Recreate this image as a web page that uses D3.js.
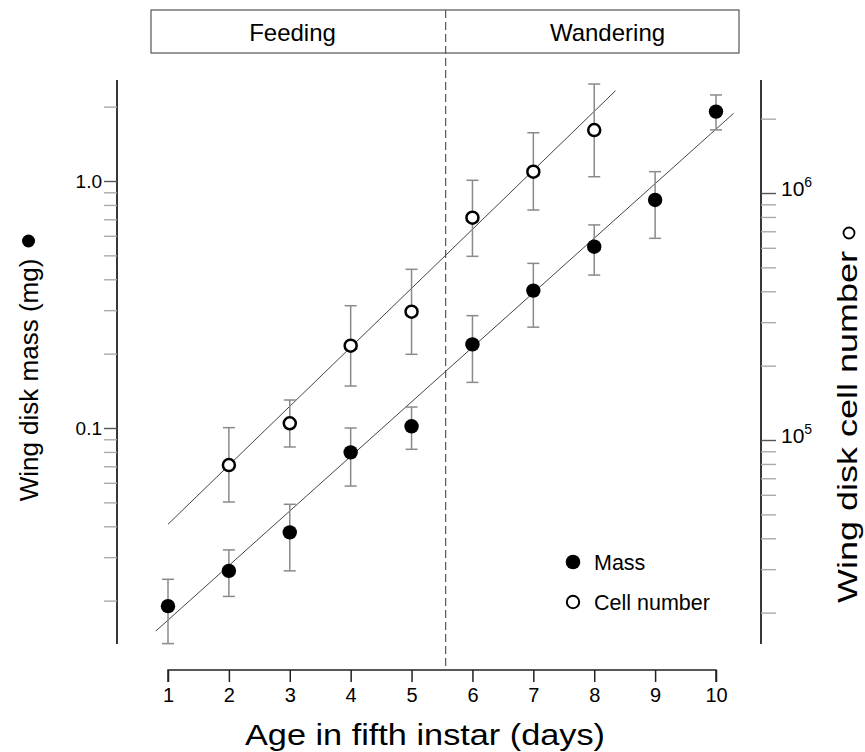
<!DOCTYPE html>
<html>
<head>
<meta charset="utf-8">
<script src="https://cdn.jsdelivr.net/npm/d3@7"></script>
<style>
  html, body { margin: 0; padding: 0; background: #fff; }
  svg { display: block; }
  text { font-family: "Liberation Sans", Arial, Helvetica, sans-serif; fill: #000; }
</style>
</head>
<body>
<svg id="chart" width="865" height="752"></svg>
<script>
// ---- Data ----
const days = [1, 2, 3, 4, 5, 6, 7, 8, 9, 10];
const massMean  = [0.0190, 0.0264, 0.0378, 0.0797, 0.1016, 0.218, 0.360, 0.542, 0.838, 1.91];
const massUpper = [0.0244, 0.0321, 0.0491, 0.100, 0.1216, 0.285, 0.464, 0.664, 1.091, 2.23];
const massLower = [0.0134, 0.0208, 0.0264, 0.0582, 0.0820, 0.153, 0.256, 0.416, 0.586, 1.61];

const cellDays  = [2, 3, 4, 5, 6, 7, 8];
const cellMean  = [79200, 116900, 240900, 330700, 794300, 1220000, 1799000];
const cellUpper = [112200, 145200, 349700, 491000, 1126000, 1754000, 2762000];
const cellLower = [56100, 93700, 165400, 222300, 554200, 853500, 1164000];

const massFitDays = [0.80, 10.29];
const massFitValues = [0.01507, 1.88];
const cellFitDays = [1.0, 8.35];
const cellFitValues = [45590, 2596000];

const xTicks = [1, 2, 3, 4, 5, 6, 7, 8, 9, 10];
const massTicks = [0.02,0.03,0.04,0.05,0.06,0.07,0.08,0.09,0.1,0.2,0.3,0.4,0.5,0.6,0.7,0.8,0.9,1,2];
const massMajor = [0.1, 1];
const massLabels = ["0.1", "1.0"];
const cellTicks = [2e4,3e4,4e4,5e4,6e4,7e4,8e4,9e4,1e5,2e5,3e5,4e5,5e5,6e5,7e5,8e5,9e5,1e6,2e6];
const cellMajor = [1e5, 1e6];
const cellExp = ["5", "6"];
const phaseLabels = ["Feeding", "Wandering"];
const phaseBoundary = 5.56;
const legendLabels = ["Mass", "Cell number"];

// ---- Layout ----
const svg = d3.select("#chart");
const x = d3.scaleLinear().domain([1, 10]).range([168, 716]);
const yMass = d3.scaleLog().domain([0.01335, 2.564]).range([644, 80]);
const yCell = d3.scaleLog().domain([14930, 2.868e6]).range([644, 80]);
const leftX = 117, rightX = 761, bottomY = 670;

// Phase box
const boxL = 151, boxR = 739, boxT = 10, boxB = 53;
svg.append("rect").attr("x", boxL).attr("y", boxT).attr("width", boxR - boxL).attr("height", boxB - boxT)
  .attr("fill", "none").attr("stroke", "#555").attr("stroke-width", 1.2);
svg.append("text").attr("x", 292.5).attr("y", 41).attr("text-anchor", "middle")
  .attr("font-size", 24).text(phaseLabels[0]);
svg.append("text").attr("x", 607.5).attr("y", 41).attr("text-anchor", "middle")
  .attr("font-size", 24).text(phaseLabels[1]);

// Dashed boundary
const bx = x(phaseBoundary);
svg.append("line").attr("x1", bx).attr("x2", bx).attr("y1", boxT).attr("y2", bottomY)
  .attr("stroke", "#555").attr("stroke-width", 1.2).attr("stroke-dasharray", "8,4");

// X axis
const xAxis = d3.axisBottom(x).tickValues(xTicks).tickSize(12).tickPadding(6).tickFormat(d3.format("d"));
const gx = svg.append("g").attr("transform", `translate(0,${bottomY})`).call(xAxis);
gx.select(".domain").attr("stroke", "#222").attr("stroke-width", 1.5).attr("d", `M${x(1)},12V0H${x(10)}V12`);
gx.selectAll(".tick line").attr("stroke", "#222").attr("stroke-width", 1.5);
gx.selectAll(".tick text").attr("font-size", 20).attr("font-family", "Liberation Sans, Arial, sans-serif").attr("fill", "#000");

// Left axis
const yAxisL = d3.axisLeft(yMass).tickValues(massTicks).tickSize(13).tickFormat(() => "");
const gl = svg.append("g").attr("transform", `translate(${leftX},0)`).call(yAxisL);
gl.select(".domain").attr("stroke", "#222").attr("stroke-width", 1.8).attr("d", "M0,80V644");
gl.selectAll(".tick line").attr("stroke", d => massMajor.includes(d) ? "#555" : "#aaa").attr("stroke-width", 1.4);
svg.selectAll(".massLabel").data(massMajor).enter().append("text").attr("class", "massLabel")
  .attr("x", 102).attr("y", d => yMass(d)).attr("dy", "0.36em").attr("text-anchor", "end")
  .attr("font-size", 19).text((d, i) => massLabels[i]);

// Right axis
const yAxisR = d3.axisRight(yCell).tickValues(cellTicks).tickSize(15).tickFormat(() => "");
const gr = svg.append("g").attr("transform", `translate(${rightX},0)`).call(yAxisR);
gr.select(".domain").attr("stroke", "#222").attr("stroke-width", 1.8).attr("d", "M0,80V644");
gr.selectAll(".tick line").attr("stroke", d => cellMajor.includes(d) ? "#555" : "#aaa").attr("stroke-width", 1.4);
const cl = svg.selectAll(".cellLabel").data(cellMajor).enter().append("text").attr("class", "cellLabel")
  .attr("x", 781).attr("y", d => yCell(d) + 3).attr("font-size", 21);
cl.append("tspan").text("10");
cl.append("tspan").attr("dy", -9).attr("font-size", 14).text((d, i) => cellExp[i]);

// Fit lines
const massLine = d3.line().x(d => x(d[0])).y(d => yMass(d[1]));
const cellLine = d3.line().x(d => x(d[0])).y(d => yCell(d[1]));
svg.append("path").attr("d", massLine(massFitDays.map((d, i) => [d, massFitValues[i]])))
  .attr("stroke", "#444").attr("stroke-width", 1).attr("fill", "none");
svg.append("path").attr("d", cellLine(cellFitDays.map((d, i) => [d, cellFitValues[i]])))
  .attr("stroke", "#444").attr("stroke-width", 1).attr("fill", "none");

// Error bars
function errorBars(cls, ds, lo, hi, y) {
  const g = svg.append("g").attr("class", cls).attr("stroke", "#8a8a8a").attr("stroke-width", 1.5).attr("fill", "none");
  ds.forEach((d, i) => {
    const cx = x(d);
    g.append("line").attr("x1", cx).attr("x2", cx).attr("y1", y(hi[i])).attr("y2", y(lo[i]));
    g.append("line").attr("x1", cx - 6).attr("x2", cx + 6).attr("y1", y(hi[i])).attr("y2", y(hi[i]));
    g.append("line").attr("x1", cx - 6).attr("x2", cx + 6).attr("y1", y(lo[i])).attr("y2", y(lo[i]));
  });
}
errorBars("massErr", days, massLower, massUpper, yMass);
errorBars("cellErr", cellDays, cellLower, cellUpper, yCell);

// Points
svg.selectAll(".massPt").data(days).enter().append("circle").attr("class", "massPt")
  .attr("cx", d => x(d)).attr("cy", (d, i) => yMass(massMean[i])).attr("r", 7.2).attr("fill", "#000");
svg.selectAll(".cellPt").data(cellDays).enter().append("circle").attr("class", "cellPt")
  .attr("cx", d => x(d)).attr("cy", (d, i) => yCell(cellMean[i])).attr("r", 6)
  .attr("fill", "#fff").attr("stroke", "#000").attr("stroke-width", 2.5);

// Legend
svg.append("circle").attr("cx", 573).attr("cy", 562).attr("r", 7.3).attr("fill", "#000");
svg.append("circle").attr("cx", 573).attr("cy", 602).attr("r", 6.2).attr("fill", "#fff").attr("stroke", "#000").attr("stroke-width", 2);
svg.append("text").attr("x", 594).attr("y", 562).attr("dy", "0.36em").attr("font-size", 21.5).text(legendLabels[0]);
svg.append("text").attr("x", 594).attr("y", 602).attr("dy", "0.36em").attr("font-size", 21.5).text(legendLabels[1]);

// Axis titles
svg.append("text").attr("x", 425).attr("y", 745).attr("text-anchor", "middle").attr("font-size", 30)
  .attr("textLength", 360).attr("lengthAdjust", "spacingAndGlyphs")
  .text("Age in fifth instar (days)");
svg.append("text").attr("transform", "translate(38,380) rotate(-90)").attr("text-anchor", "middle")
  .attr("font-size", 26).text("Wing disk mass (mg)");
svg.append("circle").attr("cx", 28.5).attr("cy", 241).attr("r", 6.5).attr("fill", "#000");
svg.append("text").attr("transform", "translate(857,427) rotate(-90)").attr("text-anchor", "middle")
  .attr("font-size", 27).attr("textLength", 352).attr("lengthAdjust", "spacingAndGlyphs")
  .text("Wing disk cell number");
svg.append("circle").attr("cx", 849).attr("cy", 233).attr("r", 5.5).attr("fill", "#fff").attr("stroke", "#000").attr("stroke-width", 1.8);
</script>
</body>
</html>
